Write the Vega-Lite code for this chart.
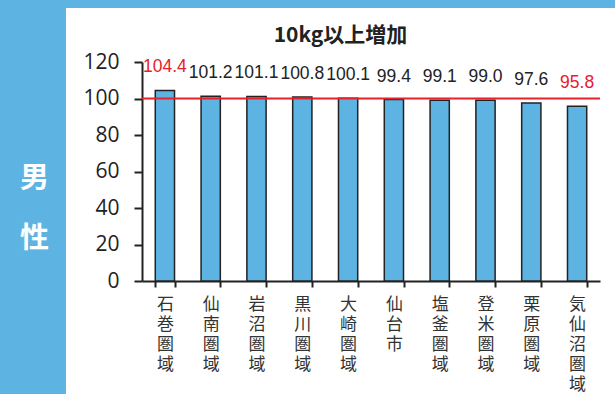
{
  "$schema": "https://vega.github.io/schema/vega-lite/v6.json",
  "width": 549,
  "height": 386,
  "autosize": {"type": "none"},
  "padding": {"left": 66, "top": 8, "right": 0, "bottom": 0},
  "background": "#5DB4E3",
  "config": {"view": {"fill": "white", "stroke": null}},
  "title": {"text": "10kg以上増加", "anchor": "middle", "offset": -38, "font": "Noto Sans CJK JP", "fontSize": 21, "fontWeight": "bold", "color": "#222222"},
  "data": {"values": [
    {"region": "石巻圏域", "value": 104.4},
    {"region": "仙南圏域", "value": 101.2},
    {"region": "岩沼圏域", "value": 101.1},
    {"region": "黒川圏域", "value": 100.8},
    {"region": "大崎圏域", "value": 100.1},
    {"region": "仙台市", "value": 99.4},
    {"region": "塩釜圏域", "value": 99.1},
    {"region": "登米圏域", "value": 99.0},
    {"region": "栗原圏域", "value": 97.6},
    {"region": "気仙沼圏域", "value": 95.8}
  ]},
  "layer": [
    {
      "layer": [
        {
          "mark": {"type": "bar", "fill": "#5DB4E3", "stroke": "#222222", "strokeWidth": 1.5},
          "encoding": {
            "x": {
              "field": "region", "type": "nominal", "sort": null,
              "scale": {"range": [76, 534], "paddingInner": 0.58, "paddingOuter": 0.29},
              "axis": {
                "orient": "bottom", "offset": -113, "tickBand": "extent", "tickSize": 6, "tickWidth": 2,
                "tickColor": "#222222", "domainColor": "#222222", "domainWidth": 2,
                "labelAngle": 0, "labelExpr": "split(datum.label, '')",
                "labelFont": "Noto Sans CJK JP", "labelFontSize": 17, "labelLineHeight": 20,
                "labelColor": "#333333", "labelBaseline": "top", "labelAlign": "center", "labelPadding": 9,
                "labelOverlap": false, "labelLimit": 0, "title": null
              }
            },
            "y": {
              "field": "value", "type": "quantitative",
              "scale": {"domain": [0, 120], "range": [273, 54], "nice": false},
              "axis": {
                "values": [0, 20, 40, 60, 80, 100, 120], "offset": -76, "grid": false,
                "tickSize": 8, "tickWidth": 2, "tickColor": "#222222",
                "domainColor": "#222222", "domainWidth": 2,
                "labelFont": "Open Sans", "labelFontSize": 21, "labelColor": "#222222", "labelPadding": 15,
                "title": ["男", "性"], "titleAngle": 0, "titleFont": "Noto Sans CJK JP", "titleFontSize": 29,
                "titleFontWeight": "bold", "titleColor": "white", "titleLineHeight": 60,
                "titleAlign": "center", "titleBaseline": "middle", "titleX": -108, "titleY": 170
              }
            }
          }
        },
        {
          "mark": {"type": "text", "baseline": "alphabetic", "dy": -18, "font": "Liberation Sans", "fontSize": 17.5},
          "encoding": {
            "x": {"field": "region", "type": "nominal", "sort": null},
            "y": {"field": "value", "type": "quantitative"},
            "text": {"field": "value", "type": "quantitative", "format": ".1f"},
            "color": {
              "condition": {"test": "datum.region === '石巻圏域' || datum.region === '気仙沼圏域'", "value": "#E8202A"},
              "value": "#222222"
            }
          }
        }
      ]
    },
    {
      "data": {"values": [{"ref": 100, "from": 0, "to": 1}]},
      "mark": {"type": "rule", "color": "#E8202A", "strokeWidth": 2},
      "encoding": {
        "y": {"field": "ref", "type": "quantitative"},
        "x": {"field": "from", "type": "quantitative", "scale": {"domain": [0, 1], "range": [76, 534]}, "axis": null},
        "x2": {"field": "to"}
      }
    }
  ],
  "resolve": {"scale": {"x": "independent"}}
}
